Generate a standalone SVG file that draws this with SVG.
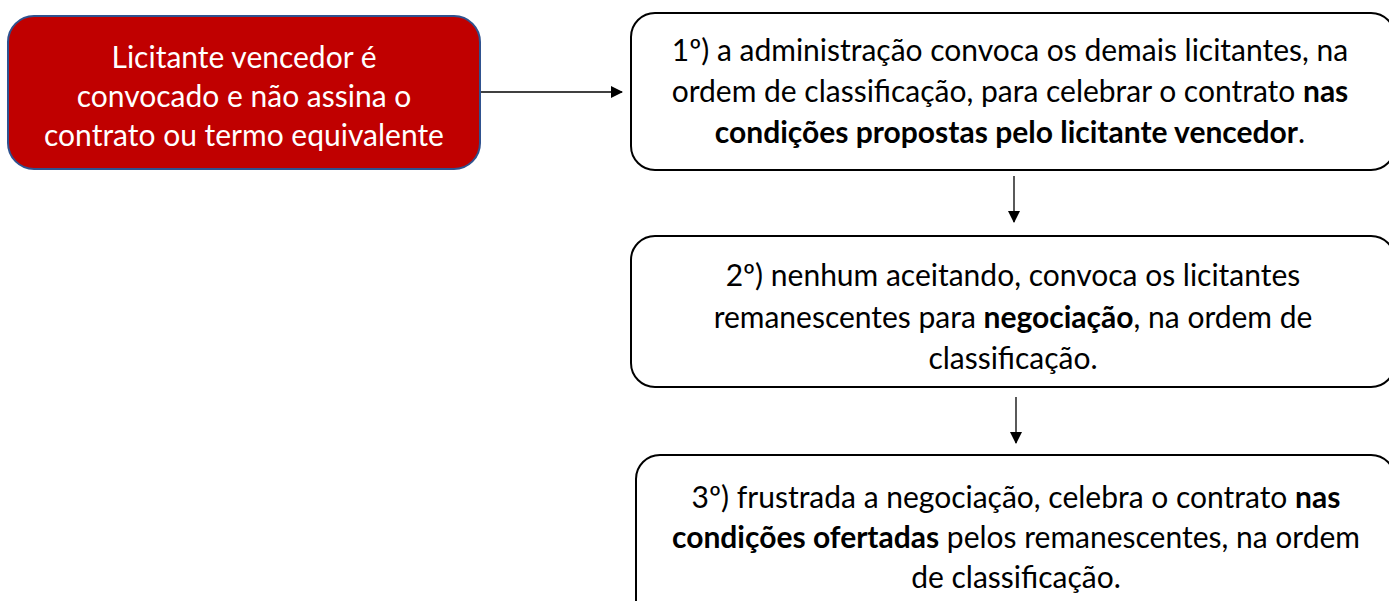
<svg xmlns="http://www.w3.org/2000/svg" width="1389" height="601" viewBox="0 0 1389 601">
<defs>
<marker id="ah" markerWidth="12" markerHeight="12" refX="11" refY="6" orient="auto" markerUnits="userSpaceOnUse" viewBox="0 0 12 12"><path d="M0,0 L12,6 L0,12 z" fill="#000"/></marker>
<style>
.t{font-family:Lato,"Noto Sans",sans-serif;font-size:30px;text-anchor:middle;fill:#000}
.w{fill:#fff}
.b{font-weight:bold}
.box{fill:#fff;stroke:#000;stroke-width:2}
.c{stroke:#000;stroke-width:1.3;fill:none;marker-end:url(#ah)}
</style>
</defs>
<rect width="1389" height="601" fill="#fff"/>
<g id="start">
<rect x="8" y="16" width="472" height="153" rx="26" fill="#C00000" stroke="#2F528F" stroke-width="2"/>
<text class="t w" x="244" y="68">Licitante vencedor é</text>
<text class="t w" x="244" y="107">convocado e não assina o</text>
<text class="t w" x="244" y="146">contrato ou termo equivalente</text>
</g>
<g id="step1">
<rect class="box" x="631" y="13" width="764" height="157" rx="24"/>
<text class="t" x="1010" y="61">1º) a administração convoca os demais licitantes, na</text>
<text class="t" x="1010" y="102">ordem de classificação, para celebrar o contrato <tspan class="b">nas</tspan></text>
<text class="t" x="1010" y="143"><tspan class="b">condições propostas pelo licitante vencedor</tspan>.</text>
</g>
<g id="step2">
<rect class="box" x="631" y="236" width="764" height="151" rx="24"/>
<text class="t" x="1013" y="286">2º) nenhum aceitando, convoca os licitantes</text>
<text class="t" x="1013" y="328">remanescentes para <tspan class="b">negociação</tspan>, na ordem de</text>
<text class="t" x="1013" y="369">classificação.</text>
</g>
<g id="step3">
<rect class="box" x="636" y="455" width="759" height="170" rx="24"/>
<text class="t" x="1016" y="508">3º) frustrada a negociação, celebra o contrato <tspan class="b">nas</tspan></text>
<text class="t" x="1016" y="548"><tspan class="b">condições ofertadas</tspan> pelos remanescentes, na ordem</text>
<text class="t" x="1016" y="588">de classificação.</text>
</g>
<g id="connectors">
<line class="c" x1="481" y1="92" x2="622" y2="92"/>
<line class="c" x1="1014" y1="176" x2="1014" y2="222"/>
<line class="c" x1="1016" y1="397" x2="1016" y2="443"/>
</g>
</svg>
